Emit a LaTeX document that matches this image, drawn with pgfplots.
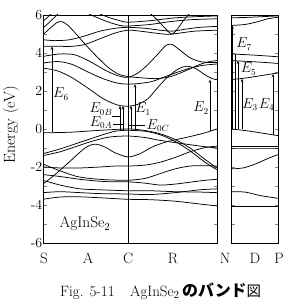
\documentclass[border=0pt]{standalone}
\usepackage{pgfplots}
\pgfplotsset{compat=1.18}
\usepackage{fontspec}
\newfontfamily\jp{Noto Sans CJK JP}
\usetikzlibrary{arrows.meta}
\begin{document}
\begin{tikzpicture}
\useasboundingbox (0bp,0bp) rectangle (283bp,299bp);
\tikzset{
  arr/.style={line width=0.5pt, -{Stealth[length=3.5bp,width=2.6bp]}},
  elab/.style={font=\fontsize{13.5}{15}\selectfont, inner sep=0pt},
  xlab/.style={anchor=base, font=\fontsize{15}{17}\selectfont, inner sep=0pt}
}
\pgfplotsset{
  band/.style={black, line width=0.75pt, smooth, no marks},
  every axis/.append style={scale only axis, anchor=south west, ymin=-6, ymax=6,
    axis line style={line width=0.9pt}, tick align=inside, ytick pos=both,
    xtick=\empty, major tick length=3.5bp, minor tick length=3.5bp,
    tick style={line width=0.5pt},
    clip mode=individual, ytick={-6,-4,...,6}, minor ytick={-5,-3,...,5}}
}
% ---------------- left panel: S - A - C - R - N ----------------
\begin{axis}[at={(43bp,56bp)}, width=174bp, height=228bp, xmin=43, xmax=217,
  yticklabels={-6,-4,-2,0,2,4,6},
  yticklabel style={font=\fontsize{14}{16}\selectfont, inner sep=0.5bp}]
% conduction bands
\addplot[band] coordinates {(43,3.21)(58,3.05)(72,2.7)(88,2.15)(103,1.6)(117,1.27)(128,1.2)(138,1.3)(148,1.6)(158,2.2)(168,2.75)(178,3.15)(186,3.3)(195,3.2)(205,2.85)(212,2.65)(217,2.6)};
\addplot[band] coordinates {(43,3.47)(58,3.55)(72,3.4)(88,3.0)(103,2.65)(117,2.42)(128,2.36)(140,2.4)(152,2.5)(165,2.75)(178,3.0)(190,3.2)(203,3.35)(217,3.42)};
\addplot[band] coordinates {(43,3.82)(60,3.95)(75,3.9)(90,3.55)(105,3.1)(118,2.8)(128,2.72)(138,2.95)(148,3.4)(158,3.95)(166,4.4)(172,4.45)(180,4.15)(190,3.75)(200,3.55)(210,3.5)(217,3.5)};
\addplot[band] coordinates {(43,4.96)(50,5.3)(57,5.6)(62,5.65)(68,5.45)(77,4.95)(87,4.35)(97,3.8)(108,3.25)(118,2.9)(128,2.76)(140,2.7)(155,2.65)(170,2.75)(185,3.05)(200,3.4)(210,3.55)(217,3.6)};
\addplot[band] coordinates {(43,4.35)(60,4.35)(72,4.35)(85,4.45)(100,4.75)(115,5.05)(128,5.2)(140,5.15)(155,5.05)(168,4.98)(180,5.05)(195,5.15)(217,5.2)};
\addplot[band] coordinates {(43,4.7)(55,4.65)(70,4.7)(85,4.9)(100,5.15)(115,5.3)(128,5.35)(145,5.3)(160,5.2)(172,5.15)(185,5.25)(200,5.35)(217,5.4)};
\addplot[band] coordinates {(89,6.05)(100,5.8)(110,5.6)(120,5.45)(128,5.42)(150,5.5)(170,5.65)(190,5.75)(217,5.8)};
\addplot[band] coordinates {(100,6.05)(110,5.85)(120,5.7)(128,5.62)(150,5.7)(175,5.85)(200,5.92)(217,5.95)};
\addplot[band] coordinates {(43,5.32)(48,5.55)(54,5.85)(58,6.05)};
\addplot[band] coordinates {(43,5.67)(47,5.85)(51,6.05)};
\addplot[band] coordinates {(150,6.1)(158,5.7)(166,5.25)(172,5.0)(178,5.3)(184,5.75)(190,6.1)};
% valence bands
\addplot[band] coordinates {(43,-0.2)(70,-0.17)(100,-0.07)(128,0)(145,-0.08)(160,-0.25)(175,-0.55)(190,-1.0)(205,-1.6)(217,-2.05)};
\addplot[band] coordinates {(43,-1.3)(60,-1.05)(80,-0.7)(100,-0.35)(115,-0.12)(128,-0.07)(145,-0.12)(160,-0.3)(175,-0.65)(190,-1.15)(205,-1.75)(217,-2.15)};
\addplot[band] coordinates {(43,-1.4)(60,-1.2)(80,-0.85)(95,-0.6)(110,-0.42)(128,-0.37)(145,-0.45)(160,-0.6)(180,-0.75)(200,-0.9)(217,-1.0)};
\addplot[band] coordinates {(43,-2.9)(55,-2.4)(70,-1.7)(85,-1.0)(95,-0.8)(105,-0.95)(115,-1.25)(128,-1.47)(140,-1.3)(152,-0.95)(165,-0.7)(177,-0.55)(190,-0.4)(205,-0.2)(217,0)};
\addplot[band] coordinates {(43,-1.85)(60,-2.2)(77,-2.5)(93,-2.62)(110,-2.68)(128,-2.7)(145,-2.6)(160,-2.35)(175,-2.1)(190,-1.95)(205,-1.93)(217,-1.95)};
\addplot[band] coordinates {(43,-2.0)(60,-2.05)(80,-2.05)(100,-2.0)(115,-1.95)(128,-1.95)(145,-1.9)(160,-1.75)(175,-1.5)(190,-1.2)(205,-0.98)(217,-0.9)};
\addplot[band] coordinates {(43,-2.4)(60,-2.5)(80,-2.65)(100,-2.75)(115,-2.78)(128,-2.78)(145,-2.85)(160,-2.95)(175,-2.9)(190,-2.8)(205,-2.7)(217,-2.65)};
\addplot[band] coordinates {(43,-2.7)(60,-2.95)(80,-3.15)(100,-3.2)(128,-3.25)(150,-3.25)(175,-3.3)(200,-3.32)(217,-3.35)};
\addplot[band] coordinates {(43,-3.35)(60,-3.3)(80,-3.35)(100,-3.4)(128,-3.42)(150,-3.45)(175,-3.35)(200,-3.2)(217,-3.15)};
\addplot[band] coordinates {(43,-3.7)(60,-3.58)(80,-3.57)(100,-3.62)(128,-3.7)(150,-3.72)(175,-3.8)(200,-3.95)(217,-4.05)};
% C line
\draw[line width=0.8pt] (axis cs:128,-6) -- (axis cs:128,6);
% transitions
\draw[arr] (axis cs:52,-0.18) -- (axis cs:52,4.35);
\draw[arr] (axis cs:120,-0.05) -- (axis cs:120,1.22);
\draw[arr] (axis cs:123,-0.05) -- (axis cs:123,1.22);
\draw[arr] (axis cs:131,0) -- (axis cs:131,1.22);
\draw[arr] (axis cs:135,0) -- (axis cs:135,2.36);
\draw[arr] (axis cs:210,-0.1) -- (axis cs:210,2.6);
\draw[line width=0.5pt] (axis cs:112,0.68) -- (axis cs:121,0.68);
\draw[line width=0.5pt] (axis cs:113,0.26) -- (axis cs:124,0.26);
\draw[line width=0.5pt] (axis cs:129,0.22) -- (axis cs:145,0.22);
\node[elab] at (axis cs:61,1.84) {$E_6$};
\node[elab] at (axis cs:101,1.05) {$E_{0B}$};
\node[elab] at (axis cs:101,0.32) {$E_{0A}$};
\node[elab] at (axis cs:143,1.05) {$E_1$};
\node[elab] at (axis cs:158,0.2) {$E_{0C}$};
\node[elab] at (axis cs:201,1.1) {$E_2$};
\node[font=\fontsize{15.5}{17}\selectfont] at (axis cs:85,-5.0) {AgInSe$_2$};
% x labels
\node[xlab] at (axis cs:44,-7.1) {S};
\node[xlab] at (axis cs:88,-7.1) {A};
\node[xlab] at (axis cs:128,-7.1) {C};
\node[xlab] at (axis cs:173,-7.1) {R};
\node[xlab] at (axis cs:225,-7.1) {N};
\end{axis}
% ---------------- right panel: N - D - P ----------------
\begin{axis}[at={(231bp,56bp)}, width=47bp, height=228bp, xmin=231, xmax=278,
  yticklabels={}]
\addplot[band] coordinates {(231,5.85)(250,5.88)(265,5.92)(278,5.95)};
\addplot[band] coordinates {(231,5.45)(245,5.5)(258,5.65)(268,5.8)(278,5.88)};
\addplot[band] coordinates {(231,3.95)(250,3.9)(265,3.85)(278,3.8)};
\addplot[band] coordinates {(231,3.6)(250,3.55)(265,3.5)(278,3.45)};
\addplot[band] coordinates {(231,2.6)(245,2.68)(260,2.8)(278,2.95)};
\addplot[band] coordinates {(231,0)(245,-0.08)(260,-0.2)(278,-0.35)};
\addplot[band] coordinates {(231,-0.9)(278,-0.9)};
\addplot[band] coordinates {(231,-1.0)(278,-1.0)};
\addplot[band] coordinates {(231,-2.1)(243,-2.05)(255,-1.85)(268,-1.55)(278,-1.35)};
\addplot[band] coordinates {(231,-3.3)(245,-3.32)(260,-3.5)(278,-3.65)};
\addplot[band] coordinates {(231,-4.05)(278,-4.05)};
\draw[arr] (axis cs:232.5,0) -- (axis cs:232.5,5.45);
\draw[line width=0.5pt] (axis cs:235,0) -- (axis cs:235,3.95);
\draw[arr] (axis cs:238,0) -- (axis cs:238,3.6);
\draw[arr] (axis cs:242,0) -- (axis cs:242,2.65);
\draw[arr] (axis cs:273,-0.3) -- (axis cs:273,2.9);
\node[elab] at (axis cs:244,4.47) {$E_7$};
\node[elab] at (axis cs:248.5,3.15) {$E_5$};
\node[elab] at (axis cs:250,1.3) {$E_3$};
\node[elab] at (axis cs:266.5,1.3) {$E_4$};
\node[xlab] at (axis cs:255,-7.1) {D};
\node[xlab] at (axis cs:279,-7.1) {P};
\end{axis}
% y label
\node[rotate=90, font=\fontsize{16}{18}\selectfont] at (11bp,174bp) {Energy (eV)};
% caption
\node[anchor=base west, inner sep=0pt, font=\fontsize{15}{17}\selectfont] at (60bp,3bp) {Fig. 5-11};
\node[anchor=base west, inner sep=0pt, font=\fontsize{15}{17}\selectfont] at (130bp,3bp) {AgInSe$_2$\,{\jp\bfseries\fontsize{16}{18}\selectfont のバンド}{\jp\fontsize{14.5}{16}\selectfont 図}};
\end{tikzpicture}
\end{document}
